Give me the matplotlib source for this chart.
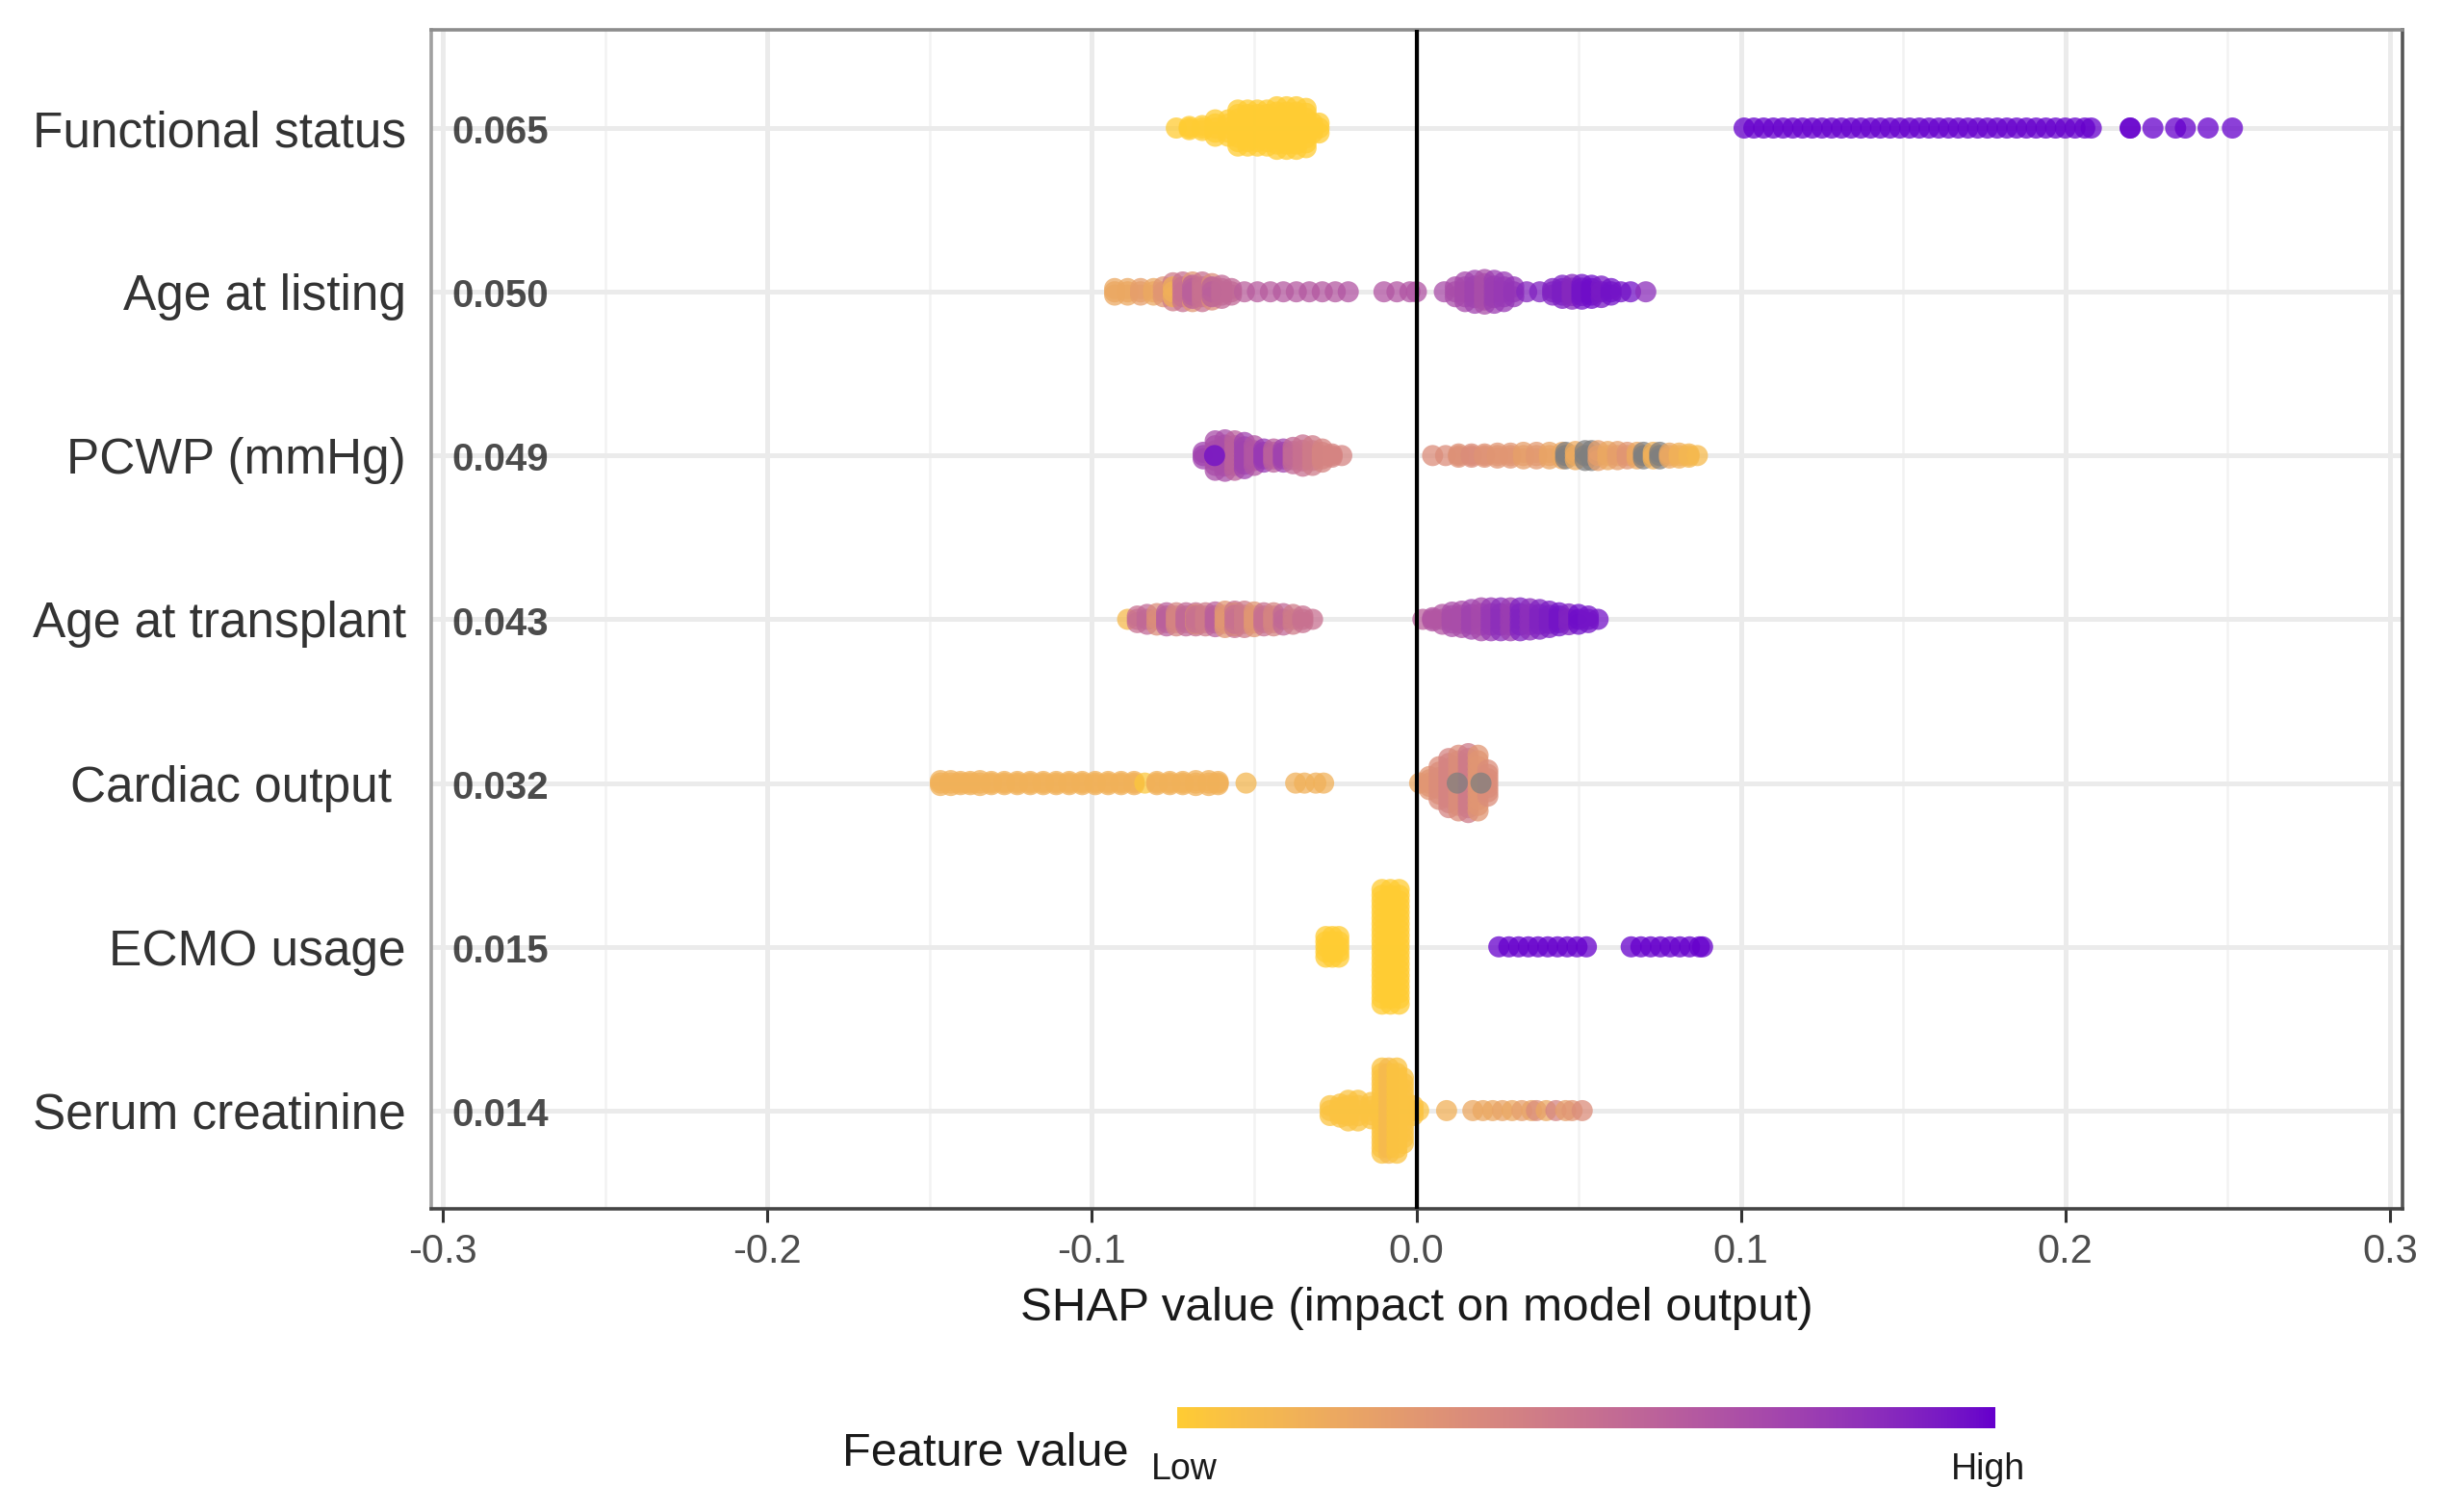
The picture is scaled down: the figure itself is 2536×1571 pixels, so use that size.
import numpy as np
import matplotlib
matplotlib.use("Agg")
import matplotlib.pyplot as plt
import matplotlib.colors as mcolors

plt.rcParams["font.family"] = ["Liberation Sans", "DejaVu Sans"]

# ---- data ----
features = ["Functional status", "Age at listing", "PCWP (mmHg)", "Age at transplant",
            "Cardiac output ", "ECMO usage", "Serum creatinine"]
mean_abs_shap = [0.065, 0.050, 0.049, 0.043, 0.032, 0.015, 0.014]

# each feature: x of a visible dot column, its vertical spread (row units), feature value (0 low .. 1 high, nan = missing)
fs_x = [-0.074, -0.070, -0.066, -0.062, -0.058, -0.055, -0.052, -0.049, -0.046, -0.043, -0.040,
        -0.037, -0.034, -0.032, -0.030,
        0.101, 0.104, 0.107, 0.110, 0.113, 0.116, 0.119, 0.122, 0.125, 0.128, 0.131, 0.134, 0.137,
        0.140, 0.143, 0.146, 0.149, 0.152, 0.155, 0.158, 0.161, 0.164, 0.167, 0.170, 0.173, 0.176,
        0.179, 0.182, 0.185, 0.188, 0.191, 0.194, 0.197, 0.200, 0.203, 0.206, 0.208,
        0.220, 0.220, 0.227, 0.234, 0.237, 0.244, 0.2515]
fs_spread = [0, 0.01, 0.015, 0.05, 0.05, 0.11, 0.11, 0.11, 0.11, 0.13, 0.13,
             0.13, 0.12, 0.03, 0.03] + [0] * 44
fs_val = [0.0] * 15 + [1.0] * 44

al_x = [-0.093, -0.089, -0.085, -0.081, -0.078, -0.075, -0.075, -0.072, -0.069, -0.069, -0.066,
        -0.063, -0.063, -0.060, -0.057, -0.053, -0.049, -0.045, -0.041, -0.037, -0.033, -0.029,
        -0.025, -0.021, -0.010, -0.006, -0.002, 0.000,
        0.0086, 0.012, 0.015, 0.018, 0.021, 0.024, 0.027, 0.030, 0.034, 0.038, 0.042, 0.045,
        0.048, 0.051, 0.054, 0.057, 0.060, 0.063, 0.066, 0.0707]
al_spread = [0.02, 0.02, 0.02, 0.02, 0.03, 0.055, 0.03, 0.06, 0.06, 0.04, 0.06,
             0.05, 0.03, 0.04, 0.02, 0, 0, 0, 0, 0, 0, 0,
             0, 0, 0, 0, 0, 0,
             0, 0.03, 0.06, 0.07, 0.075, 0.07, 0.06, 0.03, 0, 0, 0.02, 0.04,
             0.045, 0.045, 0.04, 0.035, 0.02, 0, 0, 0]
al_val = [0.2, 0.2, 0.25, 0.2, 0.3, 0.45, 0.15, 0.5, 0.3, 0.6, 0.5,
          0.35, 0.6, 0.55, 0.55, 0.6, 0.62, 0.62, 0.63, 0.63, 0.64, 0.64,
          0.64, 0.65, 0.65, 0.65, 0.66, 0.66,
          0.7, 0.7, 0.72, 0.75, 0.7, 0.78, 0.8, 0.82, 0.88, 0.9, 0.9, 0.92,
          0.88, 0.95, 0.97, 0.93, 0.96, 0.95, 0.95, 0.85]

pc_x = [-0.0657, -0.062, -0.059, -0.056, -0.053, -0.050, -0.047, -0.044, -0.041, -0.038, -0.035,
        -0.032, -0.029, -0.026, -0.023, -0.0622,
        0.005, 0.009, 0.013, 0.017, 0.021, 0.025, 0.029, 0.033, 0.037, 0.041, 0.045, 0.046, 0.049,
        0.052, 0.054, 0.056, 0.059, 0.062, 0.065, 0.068, 0.070, 0.073, 0.075, 0.078, 0.081, 0.084,
        0.0866]
pc_spread = [0.02, 0.09, 0.096, 0.09, 0.08, 0.06, 0.04, 0.04, 0.04, 0.05, 0.065,
             0.06, 0.04, 0.01, 0, 0,
             0, 0, 0.01, 0.01, 0.01, 0.015, 0.015, 0.02, 0.02, 0.02, 0.02, 0.02, 0.025,
             0.03, 0.03, 0.03, 0.025, 0.025, 0.02, 0.02, 0.02, 0.02, 0.02, 0.015, 0.015, 0.01,
             0]
pc_val = [0.75, 0.7, 0.7, 0.6, 0.75, 0.65, 0.8, 0.6, 0.75, 0.55, 0.5,
          0.45, 0.4, 0.4, 0.4, 0.97,
          0.35, 0.35, 0.33, 0.35, 0.32, 0.3, 0.3, 0.25, 0.28, 0.22, 0.2, np.nan, 0.18,
          np.nan, np.nan, 0.25, 0.2, 0.25, 0.3, 0.2, np.nan, 0.15, np.nan, 0.2, 0.15, 0.12,
          0.1]

at_x = [-0.089, -0.086, -0.083, -0.080, -0.077, -0.074, -0.071, -0.068, -0.068, -0.065, -0.062,
        -0.059, -0.056, -0.056, -0.053, -0.050, -0.047, -0.044, -0.041, -0.038, -0.035, -0.032,
        0.002, 0.005, 0.008, 0.011, 0.014, 0.017, 0.020, 0.023, 0.026, 0.029, 0.032, 0.035,
        0.038, 0.041, 0.044, 0.047, 0.050, 0.053, 0.056]
at_spread = [0, 0.02, 0.03, 0.035, 0.04, 0.04, 0.04, 0.03, 0.04, 0.04, 0.045,
             0.05, 0.04, 0.05, 0.05, 0.045, 0.04, 0.04, 0.035, 0.03, 0.02, 0,
             0, 0.01, 0.03, 0.044, 0.05, 0.06, 0.07, 0.07, 0.07, 0.07, 0.07, 0.065,
             0.06, 0.05, 0.04, 0.033, 0.03, 0.02, 0]
at_val = [0.1, 0.5, 0.55, 0.35, 0.6, 0.4, 0.55, 0.05, 0.5, 0.45, 0.6,
          0.3, 0.05, 0.5, 0.45, 0.3, 0.5, 0.4, 0.55, 0.45, 0.5, 0.5,
          0.6, 0.65, 0.65, 0.7, 0.7, 0.75, 0.72, 0.8, 0.85, 0.78, 0.9, 0.85,
          0.9, 0.92, 0.95, 0.9, 0.97, 0.95, 0.95]

co_x = [-0.1467, -0.1435, -0.1405, -0.1375, -0.1345, -0.131, -0.127, -0.123, -0.119, -0.115,
        -0.111, -0.107, -0.103, -0.099, -0.095, -0.091, -0.087, -0.0837, -0.080, -0.076, -0.072,
        -0.068, -0.064, -0.0611, -0.0525, -0.0372, -0.0345, -0.031, -0.0286,
        0.001, 0.004, 0.007, 0.010, 0.013, 0.016, 0.019, 0.022, 0.0126, 0.0199]
co_spread = [0.015, 0.015, 0.01, 0.01, 0.015, 0.01, 0.01, 0.01, 0.01, 0.01,
             0.01, 0.01, 0.01, 0.01, 0.01, 0.01, 0.01, 0, 0.01, 0.01, 0.01,
             0.015, 0.015, 0.01, 0, 0, 0, 0, 0,
             0, 0.04, 0.1, 0.15, 0.17, 0.18, 0.17, 0.08, 0, 0]
co_val = [0.15] * 17 + [0.03] + [0.15] * 6 + [0.12, 0.15, 0.15, 0.15, 0.15,
          0.2, 0.3, 0.35, 0.4, 0.35, 0.45, 0.3, 0.35, np.nan, np.nan]

ec_x = [-0.0279, -0.0259, -0.0239, -0.0106, -0.008, -0.0053,
        0.0254, 0.0285, 0.0315, 0.0345, 0.0375, 0.0405, 0.0435, 0.0465, 0.0495, 0.0524,
        0.0662, 0.0692, 0.0722, 0.0752, 0.0782, 0.0812, 0.0842, 0.0872, 0.0882]
ec_spread = [0.063, 0.063, 0.063, 0.35, 0.35, 0.35] + [0] * 19
ec_val = [0.0] * 6 + [1.0] * 19

sc_x = [-0.0266, -0.0235, -0.021, -0.018, -0.0139, -0.0106, -0.0085, -0.006, -0.004, -0.001, 0.0007,
        0.0093, 0.0174, 0.0205, 0.0235, 0.0265, 0.0295, 0.0325, 0.0355, 0.037, 0.040, 0.043, 0.046,
        0.048, 0.0511]
sc_spread = [0.03, 0.04, 0.063, 0.063, 0.05, 0.26, 0.26, 0.26, 0.2, 0.03, 0,
             0, 0, 0, 0, 0, 0, 0, 0, 0, 0, 0, 0, 0, 0]
sc_val = [0.05, 0.05, 0.05, 0.05, 0.05, 0.05, 0.1, 0.05, 0.05, 0.05, 0.05,
          0.15, 0.2, 0.2, 0.2, 0.22, 0.2, 0.25, 0.22, 0.35, 0.2, 0.4, 0.25, 0.3, 0.35]

rows = [(fs_x, fs_spread, fs_val), (al_x, al_spread, al_val), (pc_x, pc_spread, pc_val),
        (at_x, at_spread, at_val), (co_x, co_spread, co_val), (ec_x, ec_spread, ec_val),
        (sc_x, sc_spread, sc_val)]

LOW, HIGH, NA_COL = "#FFCC33", "#6600CC", "#7F7F7F"


# ggplot-style gradient interpolated in Lab space
def to_lab(hexc):
    rgb = np.array(mcolors.to_rgb(hexc))
    lin = np.where(rgb <= 0.04045, rgb / 12.92, ((rgb + 0.055) / 1.055) ** 2.4)
    m = np.array([[0.4124, 0.3576, 0.1805], [0.2126, 0.7152, 0.0722], [0.0193, 0.1192, 0.9505]])
    xyz = m @ lin / np.array([0.95047, 1.0, 1.08883])
    f = np.where(xyz > 0.008856, np.cbrt(xyz), 7.787 * xyz + 16 / 116)
    return np.array([116 * f[1] - 16, 500 * (f[0] - f[1]), 200 * (f[1] - f[2])])


def from_lab(lab):
    fy = (lab[0] + 16) / 116
    f = np.array([fy + lab[1] / 500, fy, fy - lab[2] / 200])
    xyz = np.where(f ** 3 > 0.008856, f ** 3, (f - 16 / 116) / 7.787) * np.array([0.95047, 1.0, 1.08883])
    minv = np.array([[3.2406, -1.5372, -0.4986], [-0.9689, 1.8758, 0.0415], [0.0557, -0.2040, 1.0570]])
    lin = np.clip(minv @ xyz, 0, 1)
    rgb = np.where(lin <= 0.0031308, 12.92 * lin, 1.055 * lin ** (1 / 2.4) - 0.055)
    return np.clip(rgb, 0, 1)


lab_lo, lab_hi = to_lab(LOW), to_lab(HIGH)
cmap = mcolors.ListedColormap([from_lab(lab_lo + t * (lab_hi - lab_lo)) for t in np.linspace(0, 1, 256)])

fig = plt.figure(figsize=(25.36, 15.71), dpi=100)
ax = fig.add_axes([0.1767, 0.2005, 0.8075, 0.7798])

n = len(features)
ypos = np.arange(n, 0, -1)

for (xs, spreads, vals), y0 in zip(rows, ypos):
    px, py, pc = [], [], []
    for x, s, v in zip(xs, spreads, vals):
        k = 1 if s == 0 else int(np.ceil(s / 0.035)) * 2 + 1
        offs = [0.0] if k == 1 else np.linspace(-s, s, k)
        col = NA_COL if np.isnan(v) else cmap(float(v))
        for o in offs:
            px.append(x)
            py.append(y0 + o)
            pc.append(col)
    ax.scatter(px, py, s=250, c=pc, alpha=0.75, linewidths=0, zorder=3)

ax.axvline(0, color="black", lw=3, zorder=4)

ax.set_xlim(-0.3036, 0.3039)
ax.set_ylim(0.4, n + 0.6)
xt = [-0.3, -0.2, -0.1, 0.0, 0.1, 0.2, 0.3]
ax.set_xticks(xt)
ax.set_xticklabels([f"{t:.1f}" for t in xt])
ax.set_xticks([-0.25, -0.15, -0.05, 0.05, 0.15, 0.25], minor=True)
ax.set_yticks(ypos)
ax.set_yticklabels(features)
ax.tick_params(axis="x", which="major", labelsize=30, labelcolor="#4D4D4D", length=10,
               width=2.2, color="#333333", pad=8)
ax.tick_params(axis="x", which="minor", length=0)
ax.tick_params(axis="y", labelsize=37, labelcolor="#333333", length=0, pad=19)

ax.grid(True, which="major", color="#EBEBEB", lw=3.6, zorder=0)
ax.grid(True, which="minor", axis="x", color="#F2F2F2", lw=1.8, zorder=0)
ax.set_axisbelow(True)

for side, col in [("left", "#A0A0A0"), ("top", "#8C8C8C"), ("right", "#555555"), ("bottom", "#444444")]:
    ax.spines[side].set_color(col)
    ax.spines[side].set_linewidth(2.6)

# mean |SHAP| labels just inside the left edge
for v, y0 in zip(mean_abs_shap, ypos):
    ax.text(0.0103, y0 - 0.03, f"{v:.3f}", transform=ax.get_yaxis_transform(), ha="left",
            va="center", fontsize=29, fontweight="bold", color="black", alpha=0.7)

fig.text(0.5804, 0.1349, "SHAP value (impact on model output)", ha="center", va="center",
         fontsize=35.5, color="#1A1A1A")

# colour legend
cax = fig.add_axes([0.4823, 0.0554, 0.3348, 0.0140])
cax.imshow(np.linspace(0, 1, 256)[None, :], aspect="auto", cmap=cmap, extent=(0, 1, 0, 1))
cax.set_axis_off()
fig.text(0.4625, 0.0385, "Feature value", ha="right", va="center", fontsize=35, color="#1A1A1A")
fig.text(0.485, 0.0280, "Low", ha="center", va="center", fontsize=27, color="#1A1A1A")
fig.text(0.8143, 0.0280, "High", ha="center", va="center", fontsize=27, color="#1A1A1A")

fig.savefig("out.png", dpi=100)
